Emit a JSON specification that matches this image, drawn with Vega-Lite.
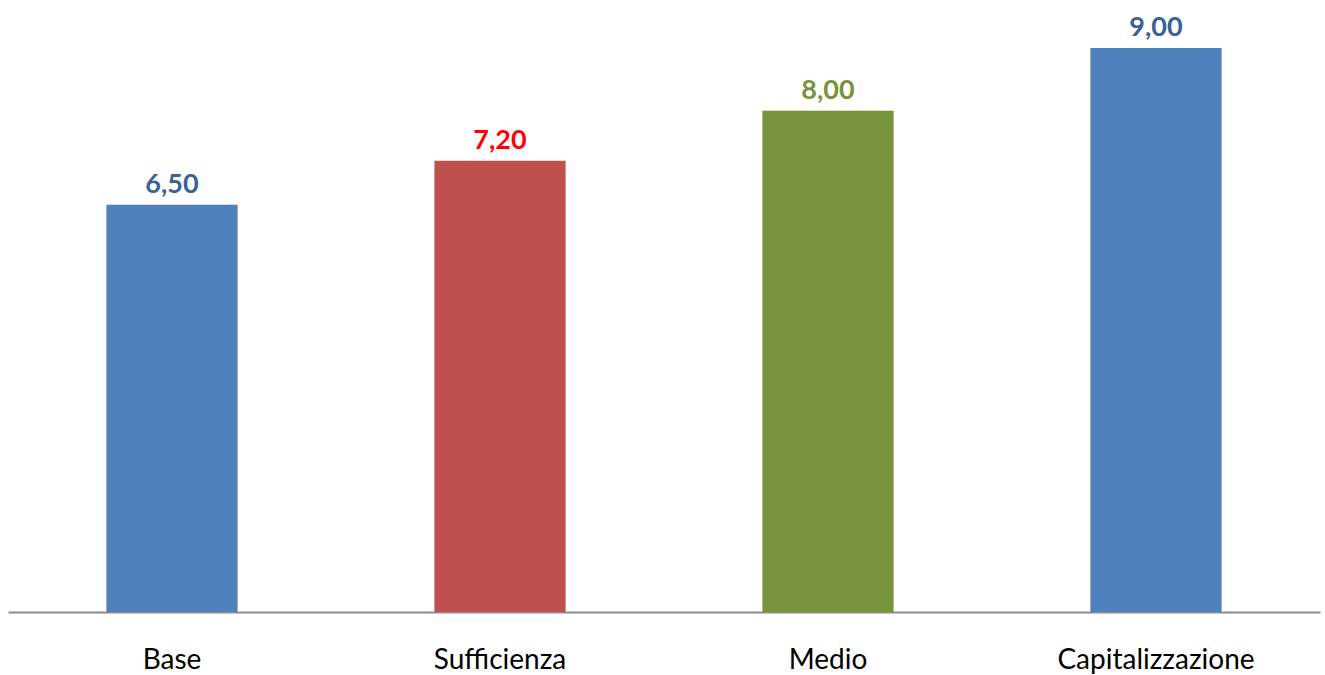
{
  "$schema": "https://vega.github.io/schema/vega-lite/v6.json",
  "width": 1312,
  "height": 612,
  "padding": {"left": 8, "top": 0, "right": 5, "bottom": 63},
  "autosize": {"type": "none"},
  "background": "white",
  "config": {"view": {"stroke": null}},
  "data": {
    "values": [
      {"category": "Base", "value": 6.5, "label": "6,50", "bar": "#4F81BD", "text": "#3A6296"},
      {"category": "Sufficienza", "value": 7.2, "label": "7,20", "bar": "#C0504D", "text": "#FF0000"},
      {"category": "Medio", "value": 8.0, "label": "8,00", "bar": "#77933C", "text": "#77933C"},
      {"category": "Capitalizzazione", "value": 9.0, "label": "9,00", "bar": "#4F81BD", "text": "#3A6296"}
    ]
  },
  "encoding": {
    "x": {
      "field": "category",
      "type": "nominal",
      "sort": null,
      "scale": {"paddingInner": 0.6, "paddingOuter": 0.3},
      "axis": {
        "title": null,
        "labelAngle": 0,
        "ticks": false,
        "labelFont": "Lato",
        "labelFontSize": 28,
        "labelLimit": 500,
        "labelColor": "#000000",
        "labelPadding": 34,
        "domainColor": "#8C8C8C",
        "domainWidth": 2
      }
    },
    "y": {
      "field": "value",
      "type": "quantitative",
      "scale": {"domain": [0, 9.766], "nice": false, "zero": true},
      "axis": null
    }
  },
  "layer": [
    {
      "mark": {"type": "bar"},
      "encoding": {"color": {"field": "bar", "type": "nominal", "scale": null}}
    },
    {
      "mark": {"type": "text", "baseline": "alphabetic", "dy": -12, "font": "Lato", "fontSize": 27, "fontWeight": "bold"},
      "encoding": {
        "text": {"field": "label"},
        "color": {"field": "text", "type": "nominal", "scale": null}
      }
    }
  ]
}
